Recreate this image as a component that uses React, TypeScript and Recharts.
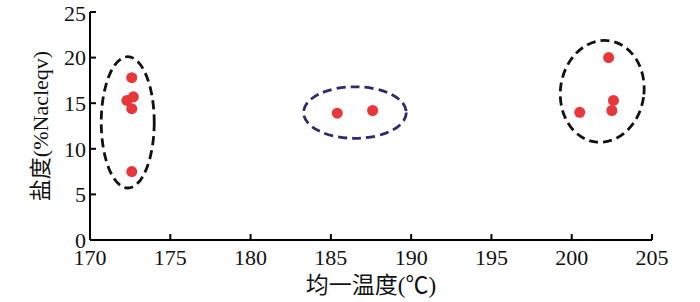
import { ScatterChart, Scatter, XAxis, YAxis, ReferenceArea } from "recharts";

// homogenization temperature (°C) vs salinity (%NaCl eqv)
const lowTemp = [
  { t: 172.6, s: 17.8 },
  { t: 172.3, s: 15.3 },
  { t: 172.7, s: 15.7 },
  { t: 172.6, s: 14.4 },
  { t: 172.6, s: 7.5 },
];
const midTemp = [
  { t: 185.4, s: 13.9 },
  { t: 187.6, s: 14.2 },
];
const highTemp = [
  { t: 202.3, s: 20.0 },
  { t: 202.6, s: 15.3 },
  { t: 202.5, s: 14.2 },
  { t: 200.5, s: 14.0 },
];

// group outlines: [tMin, tMax, sMin, sMax]
const groupBounds = [
  [170.7, 174.0, 5.7, 20.1],
  [183.3, 189.7, 11.15, 16.8],
  [199.3, 204.5, 10.7, 21.9],
];
const groupColors = ["#111111", "#2e2a6e", "#111111"];
const groupTilt = [0, 0, 8];

const xTicks = [170, 175, 180, 185, 190, 195, 200, 205];
const yTicks = [0, 5, 10, 15, 20, 25];

const serif = "'Liberation Serif', 'Times New Roman', serif";
const cjk = "'Liberation Serif', 'Noto Sans CJK SC', serif";

const Dot = (props: any) => {
  const { cx, cy } = props;
  return <circle cx={cx} cy={cy} r={5.5} fill="#e8363a" />;
};

const makeEllipse = (color: string, tilt: number) => (props: any) => {
  const { x, y, width, height } = props;
  const cx = x + width / 2;
  const cy = y + height / 2;
  return (
    <ellipse
      cx={cx}
      cy={cy}
      rx={width / 2}
      ry={height / 2}
      fill="none"
      stroke={color}
      strokeWidth={2.8}
      strokeDasharray="9 5"
      transform={`rotate(${tilt} ${cx} ${cy})`}
    />
  );
};

const App = () => {
  return (
    <div style={{ position: "absolute", left: 0, top: 0, background: "#fff" }}>
      <ScatterChart
        width={700}
        height={302}
        margin={{ top: 12, right: 48, bottom: 0, left: 0 }}
      >
        <XAxis
          type="number"
          dataKey="t"
          domain={[170, 205]}
          ticks={xTicks}
          height={62}
          tickSize={-6}
          tickMargin={15}
          axisLine={{ stroke: "#000", strokeWidth: 2 }}
          tickLine={{ stroke: "#000", strokeWidth: 2 }}
          tick={{ fill: "#111", fontSize: 22, fontFamily: serif }}
          label={{
            value: "均一温度(℃)",
            position: "insideBottom",
            offset: 9,
            fill: "#111",
            fontSize: 23,
            fontFamily: cjk,
          }}
        />
        <YAxis
          type="number"
          dataKey="s"
          domain={[0, 25]}
          ticks={yTicks}
          width={90}
          tickSize={-6}
          tickMargin={10}
          axisLine={{ stroke: "#000", strokeWidth: 2 }}
          tickLine={{ stroke: "#000", strokeWidth: 2 }}
          tick={{ fill: "#111", fontSize: 22, fontFamily: serif }}
          label={{
            value: "盐度(%Nacleqv)",
            angle: -90,
            position: "insideLeft",
            offset: 40,
            fill: "#111",
            fontSize: 22,
            fontFamily: cjk,
            style: { textAnchor: "middle" },
          }}
        />
        {groupBounds.map((b, i) => (
          <ReferenceArea
            key={i}
            x1={b[0]}
            x2={b[1]}
            y1={b[2]}
            y2={b[3]}
            ifOverflow="visible"
            shape={makeEllipse(groupColors[i], groupTilt[i])}
          />
        ))}
        <Scatter data={lowTemp} shape={<Dot />} isAnimationActive={false} />
        <Scatter data={midTemp} shape={<Dot />} isAnimationActive={false} />
        <Scatter data={highTemp} shape={<Dot />} isAnimationActive={false} />
      </ScatterChart>
    </div>
  );
};

export default App;
